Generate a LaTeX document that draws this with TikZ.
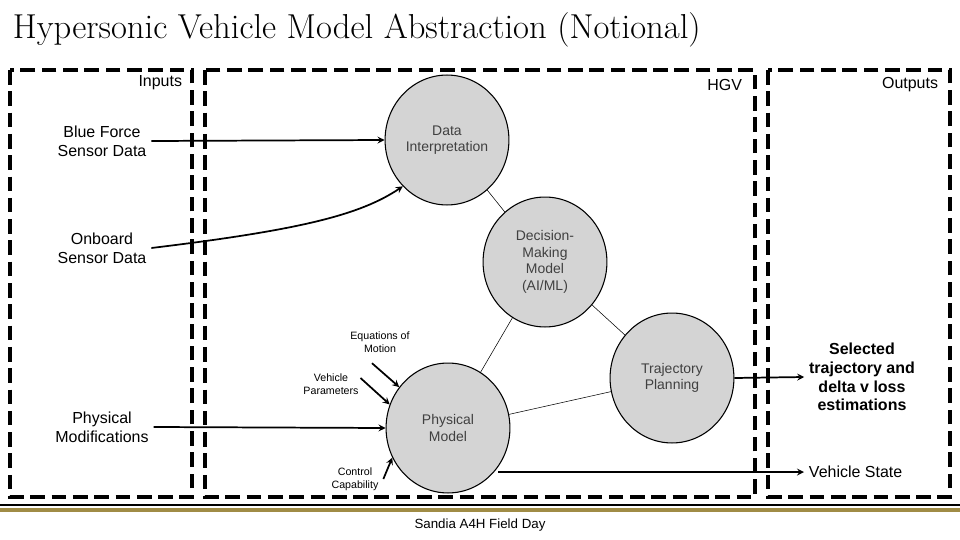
\documentclass[tikz,border=0pt]{standalone}
\usepackage{fontspec}
\setmainfont{Liberation Sans}
\newfontfamily\titlefont{Latin Modern Roman}
\usetikzlibrary{shapes,arrows,positioning,calc}
\definecolor{sandiagold}{RGB}{160,140,70}

\begin{document}
\begin{tikzpicture}[
    x=0.0264cm, y=-0.0264cm,
    thick,
    >=stealth,
    frame/.style={draw, line width=2.4pt, dash pattern=on 11pt off 5pt},
    bubble/.style={ellipse, draw, fill=black!17, minimum height=3.43cm, minimum width=3.27cm, inner sep=0pt, align=center, font=\fontsize{10.5}{12.5}\selectfont, text=black!75},
    side/.style={align=center, font=\fontsize{12}{14}\selectfont},
    small/.style={align=center, font=\fontsize{8}{9.5}\selectfont},
    link/.style={->, line width=1.3pt}
]
\useasboundingbox (0,0) rectangle (960,540);

% Title
\node [anchor=west, font=\titlefont\fontsize{26}{30}\selectfont] (title) at (8,30) {Hypersonic Vehicle Model Abstraction (Notional)};

% Frames
\draw [frame] (10,70) rectangle (192,497);
\draw [frame] (205,70) rectangle (755,497);
\draw [frame] (768,70) rectangle (950,497);
\node [side, anchor=east] (inputs) at (187,83) {Inputs};
\node [side, anchor=east] (hgv) at (747,85) {HGV};
\node [side, anchor=east] (outputs) at (943,85) {Outputs};

% Bubbles
\node [bubble] (interp) at (447,140) {Data\\Interpretation};
\node [bubble] (decide) at (545,262) {Decision-\\Making\\Model\\(AI/ML)};
\node [bubble] (traj) at (672,378) {Trajectory\\Planning};
\node [bubble] (phys) at (448,428) {Physical\\Model};

\draw [thin] (interp) -- (decide);
\draw [thin] (decide) -- (phys);
\draw [thin] (decide) -- (traj);
\draw [thin] (phys) -- (traj);

% Inputs
\node [side] (blue) at (102,141) {Blue Force\\Sensor Data};
\node [side] (onboard) at (102,248) {Onboard\\Sensor Data};
\node [side] (mods) at (102,427) {Physical\\Modifications};
\draw [link] (blue.east) -- (interp.west);
\draw [link] (onboard.east) .. controls (300,230) and (360,215) .. (interp.south west);
\draw [link] (mods.east) -- (phys.west);

% Parameters
\node [small] (eom) at (380,342) {Equations of\\Motion};
\node [small] (vpar) at (331,384) {Vehicle\\Parameters};
\node [small] (ctrl) at (355,479) {Control\\Capability};
\draw [link] (eom.south) ++(-8,6) coordinate (eomst) -- (phys.140);
\draw [link] (vpar.east) ++(-3,-6) coordinate (vst) -- (phys.158);
\draw [link] (ctrl.east) -- (phys.208);

% Outputs
\node [side, font=\bfseries\fontsize{12}{14}\selectfont] (sel) at (862,377) {Selected\\trajectory and\\delta v loss\\estimations};
\node [side, anchor=west] (vstate) at (804,472) {Vehicle State};
\draw [link] (traj.east) -- (sel.west);
\draw [link] (phys.-38 |- vstate.west) -- (vstate.west);

% Footer
\draw [line width=2pt] (0,505) -- (960,505);
\draw [sandiagold, line width=2.5pt] (0,510) -- (960,510);
\node [font=\fontsize{10}{12}\selectfont] (footer) at (480,525) {Sandia A4H Field Day};
\end{tikzpicture}
\end{document}
